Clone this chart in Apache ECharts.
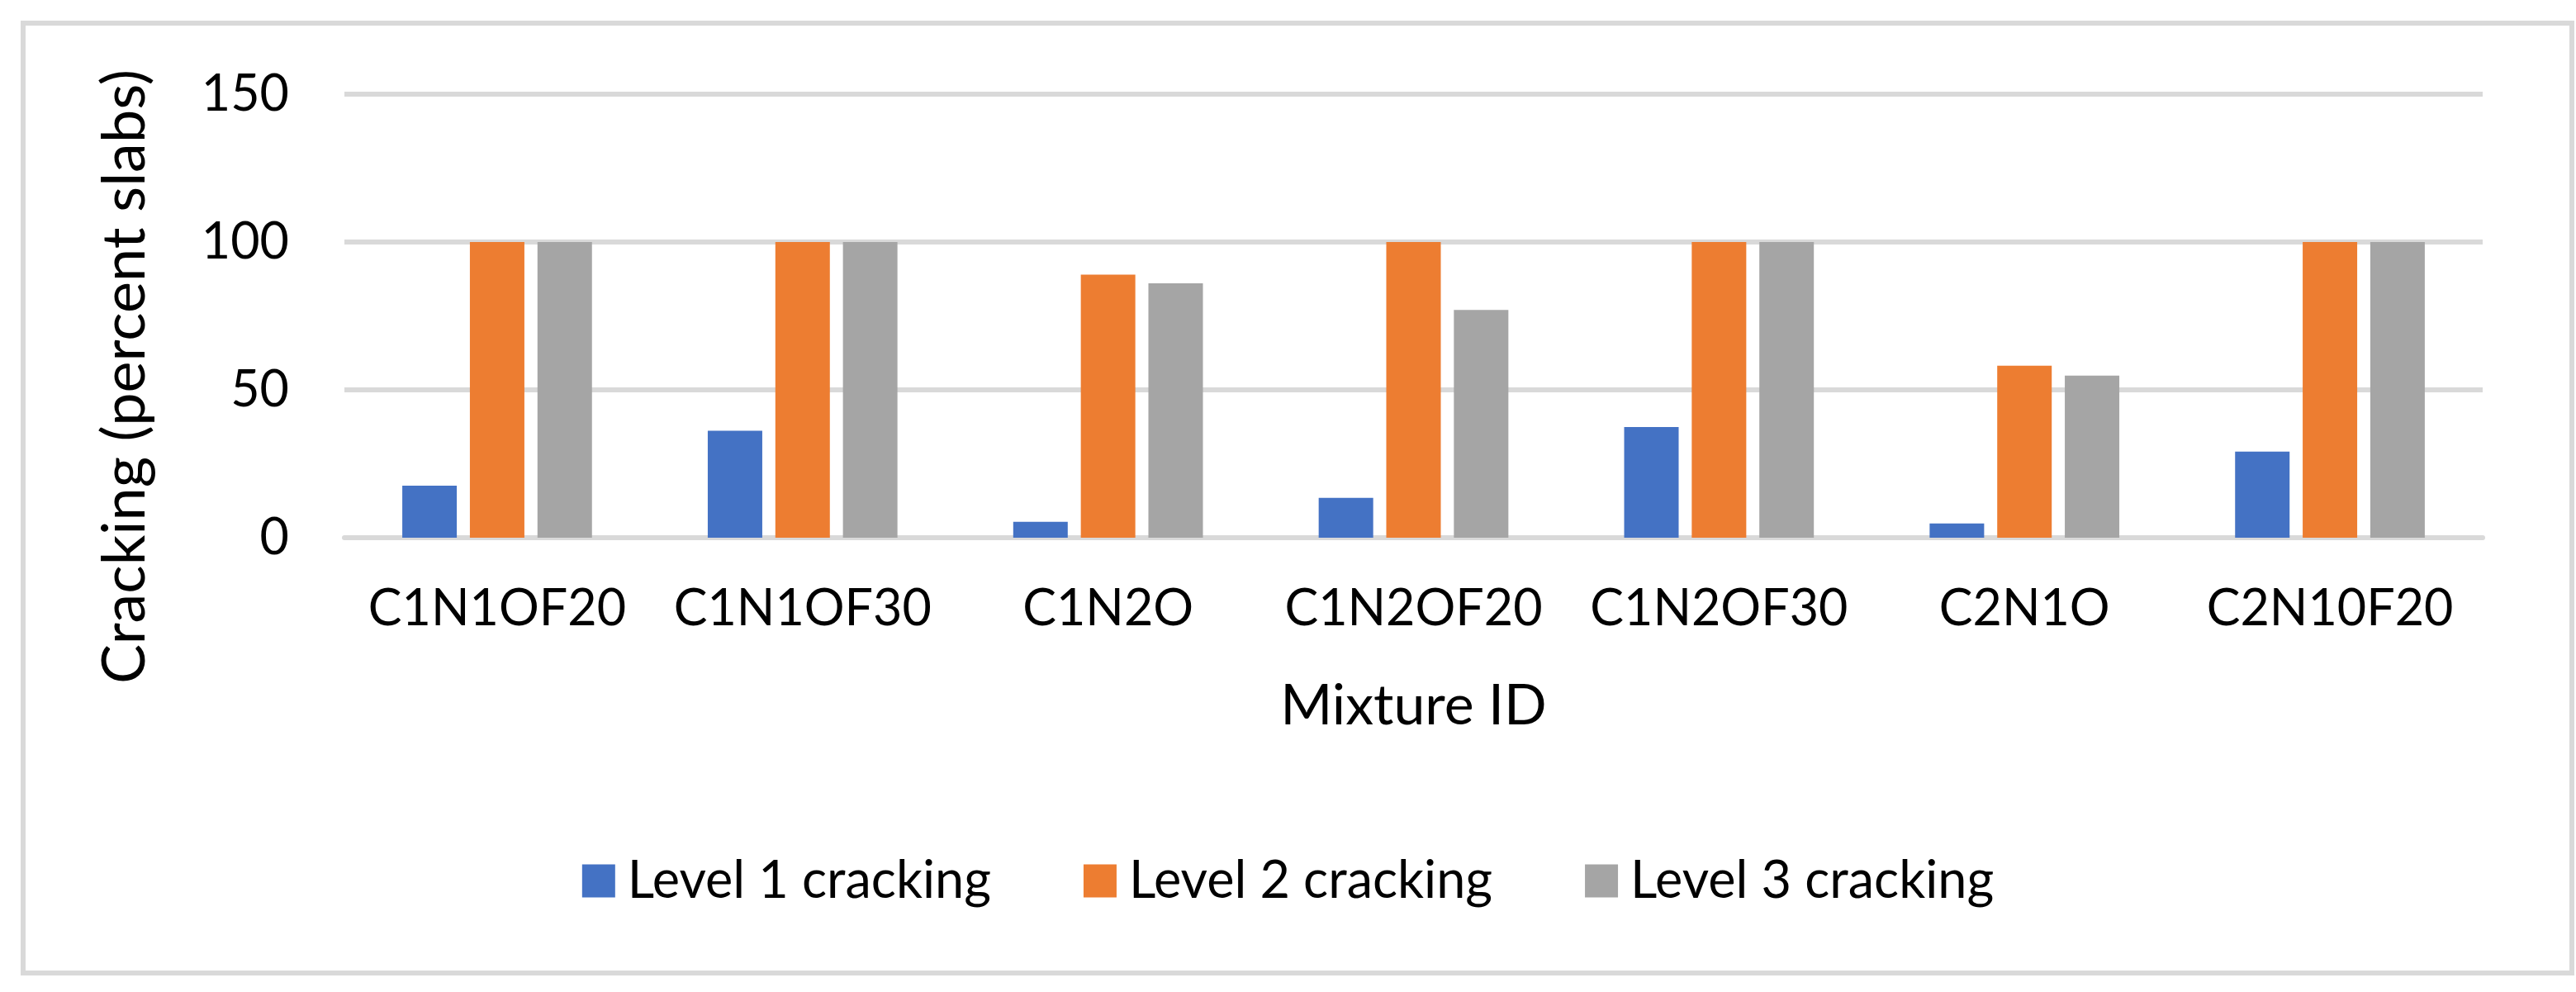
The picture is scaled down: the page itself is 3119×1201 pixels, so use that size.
<!DOCTYPE html>
<html>
<head>
<meta charset="utf-8">
<script src="https://cdn.jsdelivr.net/npm/echarts@6/dist/echarts.min.js"></script>
<style>
html,body{margin:0;padding:0;background:#fff;}
#c{width:3119px;height:1201px;}
</style>
</head>
<body>
<div id="c"></div>
<script>
const categories = ['C1N1OF20','C1N1OF30','C1N2O','C1N2OF20','C1N2OF30','C2N1O','C2N10F20'];
const level1 = [17.6, 36.2, 5.4, 13.5, 37.4, 4.8, 29.1];
const level2 = [100, 100, 89, 100, 100, 58.2, 100];
const level3 = [100, 100, 86, 77, 100, 54.8, 100];
const seriesNames = ['Level 1 cracking','Level 2 cracking','Level 3 cracking'];
const yTicks = {min:0, max:150, interval:50};

const FONT = 'Lato, "Open Sans", sans-serif';
const chart = echarts.init(document.getElementById('c'), null, {renderer:'canvas'});
const mk = (name, data, color) => ({
  name, type:'bar', data, barWidth:66, barGap:'24%',
  itemStyle:{color}, z:1
});
chart.setOption({
  animation:false,
  backgroundColor:'#fff',
  color:['#4472C4','#ED7D31','#A5A5A5'],
  graphic:[
    {type:'rect', shape:{x:28,y:28,width:3086,height:1150}, style:{fill:'none', stroke:'#d9d9d9', lineWidth:6}, silent:true},
    {type:'text', x:152, y:456, rotation:Math.PI/2,
     style:{text:'Cracking (percent slabs)', font:'72px ' + FONT, fill:'#000', textAlign:'center', textVerticalAlign:'middle'}}
  ],
  grid:{left:417, right:113, top:114, bottom:1201-651, containLabel:false},
  legend:{
    data:seriesNames, left:'center', top:1030,
    itemWidth:40, itemHeight:40, itemGap:112, icon:'rect',
    textStyle:{fontFamily:FONT, fontSize:63, color:'#000', padding:[0,0,0,10]}
  },
  xAxis:{
    type:'category', data:categories,
    name:'Mixture ID', nameLocation:'middle', nameGap:170,
    nameTextStyle:{fontFamily:FONT, fontSize:68, color:'#000'},
    axisLine:{show:true, lineStyle:{color:'#d9d9d9', width:6}},
    axisTick:{show:false},
    axisLabel:{fontFamily:FONT, fontSize:61, color:'#000', margin:56, interval:0}
  },
  yAxis:{
    type:'value', min:yTicks.min, max:yTicks.max, interval:yTicks.interval,
    axisLine:{show:false}, axisTick:{show:false},
    axisLabel:{fontFamily:FONT, fontSize:61, color:'#000', margin:67},
    splitLine:{lineStyle:{color:'#d9d9d9', width:6}}
  },
  series:[
    mk(seriesNames[0], level1, '#4472C4'),
    mk(seriesNames[1], level2, '#ED7D31'),
    mk(seriesNames[2], level3, '#A5A5A5')
  ]
});
</script>
</body>
</html>
